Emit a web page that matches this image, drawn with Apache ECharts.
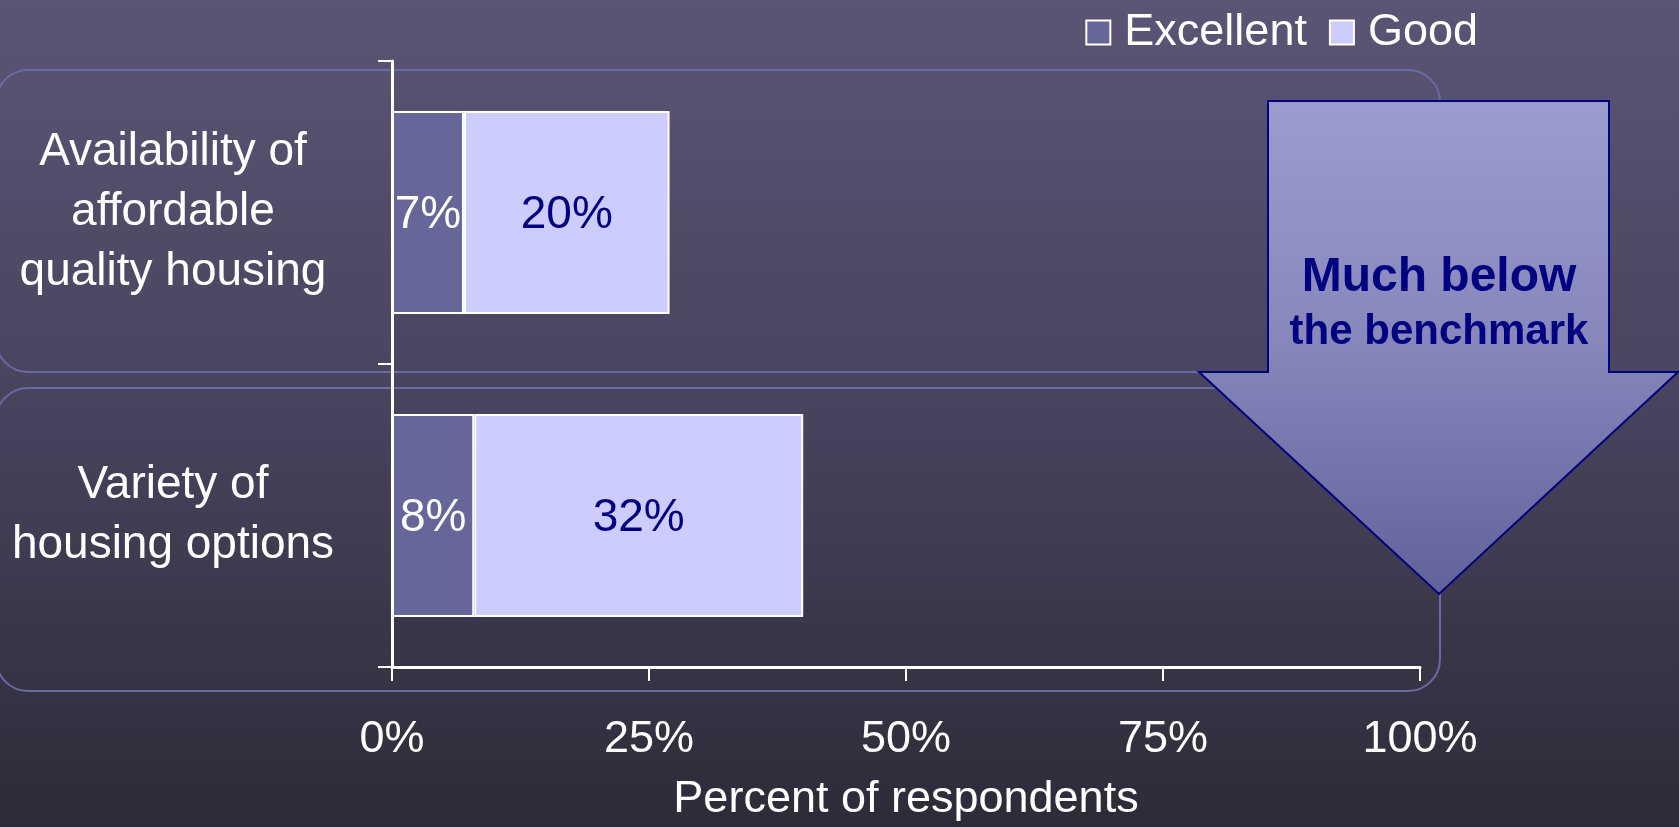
<!DOCTYPE html>
<html>
<head>
<meta charset="utf-8">
<script src="https://cdn.jsdelivr.net/npm/echarts@6/dist/echarts.min.js"></script>
<style>
html,body{margin:0;padding:0;background:#2d2b38;}
#chart{width:1679px;height:827px;}
</style>
</head>
<body>
<div id="chart"></div>
<script>
const categories = ["Availability of\naffordable\nquality housing", "Variety of\nhousing options"];
const excellent = [7, 8];
const good = [20, 32];
const xTicks = [0, 25, 50, 75, 100];
const seriesNames = ["Excellent", "Good"];
const calloutLines = ["Much below", "the benchmark"];

const FONT = '"Liberation Sans", Arial, sans-serif';
const chart = echarts.init(document.getElementById('chart'));

const option = {
  backgroundColor: {
    type: 'linear', x: 0, y: 0, x2: 0, y2: 1,
    colorStops: [{offset: 0, color: '#5c5475'}, {offset: 0.5, color: '#48435d'}, {offset: 1, color: '#2d2b38'}]
  },
  animation: false,
  textStyle: {fontFamily: FONT},
  legend: {
    data: seriesNames,
    top: 5,
    right: 196,
    icon: 'rect',
    itemWidth: 24,
    itemHeight: 24,
    itemGap: 22,
    itemStyle: {borderColor: '#ffffff', borderWidth: 2},
    textStyle: {color: '#ffffff', fontSize: 45, fontFamily: FONT, padding: [0, 0, 0, 9]}
  },
  grid: {left: 392, right: 259, top: 61, bottom: 158, containLabel: false},
  xAxis: {
    type: 'value',
    min: xTicks[0],
    max: xTicks[xTicks.length - 1],
    interval: xTicks[1] - xTicks[0],
    name: 'Percent of respondents',
    nameLocation: 'middle',
    nameGap: 110,
    nameTextStyle: {color: '#ffffff', fontSize: 45, fontFamily: FONT},
    axisLine: {show: true, lineStyle: {color: '#ffffff', width: 3}},
    axisTick: {show: true, inside: false, length: 14, lineStyle: {color: '#ffffff', width: 2}},
    axisLabel: {color: '#ffffff', fontSize: 45, margin: 50, formatter: '{value}%', fontFamily: FONT},
    splitLine: {show: false}
  },
  yAxis: {
    type: 'category',
    data: categories,
    inverse: true,
    axisLine: {show: true, lineStyle: {color: '#ffffff', width: 3}},
    axisTick: {show: true, inside: false, length: 14, lineStyle: {color: '#ffffff', width: 2}},
    axisLabel: {color: '#ffffff', fontSize: 46, lineHeight: 60, align: 'center', margin: 219, fontFamily: FONT}
  },
  series: [
    {
      name: seriesNames[0], type: 'bar', stack: 'total', data: excellent,
      barCategoryGap: '33%',
      itemStyle: {color: '#666699', borderColor: '#ffffff', borderWidth: 2},
      label: {show: true, position: 'inside', offset: [0, 3], formatter: '{c}%', color: '#ffffff', fontSize: 46, fontFamily: FONT}
    },
    {
      name: seriesNames[1], type: 'bar', stack: 'total', data: good,
      barCategoryGap: '33%',
      itemStyle: {color: '#ccccff', borderColor: '#ffffff', borderWidth: 2},
      label: {show: true, position: 'inside', offset: [0, 3], formatter: '{c}%', color: '#000080', fontSize: 46, fontFamily: FONT}
    }
  ],
  graphic: [
    {
      type: 'rect', z: -10, silent: true,
      shape: {x: -4, y: 70, width: 1444, height: 302, r: 32},
      style: {fill: 'none', stroke: '#6a6aa6', lineWidth: 2}
    },
    {
      type: 'rect', z: -10, silent: true,
      shape: {x: -4, y: 388, width: 1444, height: 303, r: 32},
      style: {fill: 'none', stroke: '#6a6aa6', lineWidth: 2}
    },
    {
      type: 'polygon', z: 50, silent: true,
      shape: {points: [[1268, 101], [1609, 101], [1609, 372], [1678, 372], [1439, 594], [1199, 372], [1268, 372]]},
      style: {
        fill: {type: 'linear', x: 0, y: 0, x2: 0, y2: 1,
          colorStops: [{offset: 0, color: '#9a9cce'}, {offset: 0.5, color: '#8686bb'}, {offset: 1, color: '#62629a'}]},
        stroke: '#000080', lineWidth: 2
      }
    },
    {
      type: 'text', z: 60, silent: true,
      style: {x: 1439, y: 278, text: calloutLines[0], fill: '#000080', font: 'bold 48px ' + FONT, textAlign: 'center', textVerticalAlign: 'middle'}
    },
    {
      type: 'text', z: 60, silent: true,
      style: {x: 1439, y: 332, text: calloutLines[1], fill: '#000080', font: 'bold 42px ' + FONT, textAlign: 'center', textVerticalAlign: 'middle'}
    }
  ]
};
chart.setOption(option);
</script>
</body>
</html>
